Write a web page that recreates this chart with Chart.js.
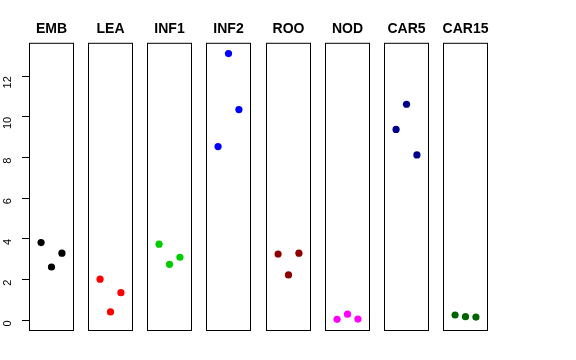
<!DOCTYPE html>
<html>
<head>
<meta charset="utf-8">
<script src="https://cdn.jsdelivr.net/npm/chart.js@4.4.0/dist/chart.umd.min.js"></script>
<style>
  html, body { margin: 0; padding: 0; background: #fff; }
  #wrap { position: relative; width: 576px; height: 360px; overflow: hidden; }
  .panel { position: absolute; top: 0; }
</style>
</head>
<body>
<div id="wrap"></div>
<script>
// Data
const groups = ['EMB', 'LEA', 'INF1', 'INF2', 'ROO', 'NOD', 'CAR5', 'CAR15'];
const colors = ['#000000', '#FF0000', '#00CD00', '#0000FF', '#8B0000', '#FF00FF', '#00008B', '#006400'];
const replicate = [1, 2, 3];
const embValues = [3.82, 2.62, 3.30];
const leaValues = [2.02, 0.41, 1.36];
const inf1Values = [3.74, 2.75, 3.10];
const inf2Values = [8.54, 13.11, 10.36];
const rooValues = [3.26, 2.23, 3.30];
const nodValues = [0.05, 0.30, 0.06];
const car5Values = [9.38, 10.62, 8.13];
const car15Values = [0.26, 0.18, 0.16];
const yTicks = [0, 2, 4, 6, 8, 10, 12];

const allValues = [embValues, leaValues, inf1Values, inf2Values, rooValues, nodValues, car5Values, car15Values];

// panel box outline
const boxPlugin = {
    id: 'box',
    afterDraw(chart) {
        const a = chart.chartArea;
        const c = chart.ctx;
        c.save();
        c.strokeStyle = '#000';
        c.lineWidth = 1;
        c.strokeRect(a.left + 0.5, a.top + 0.5, a.right - a.left - 1, a.bottom - a.top - 1);
        c.restore();
    }
};

const wrap = document.getElementById('wrap');
const axisW = 29;
const panelW = 45;

groups.forEach((name, i) => {
    const first = i === 0;
    const div = document.createElement('div');
    div.className = 'panel';
    div.style.left = Math.round(29 + i * 59.15) - axisW + 'px';
    const cv = document.createElement('canvas');
    cv.width = axisW + panelW + axisW;
    cv.height = 360;
    div.appendChild(cv);
    wrap.appendChild(div);

    new Chart(cv.getContext('2d'), {
        type: 'scatter',
        data: {
            datasets: [{
                data: replicate.map((x, k) => ({ x: x, y: allValues[i][k] })),
                backgroundColor: colors[i],
                borderWidth: 0,
                pointRadius: 3.6,
                pointHoverRadius: 3.6
            }]
        },
        options: {
            responsive: false,
            animation: false,
            layout: { autoPadding: false, padding: { left: 0, right: 0, top: 0, bottom: 29 } },
            plugins: {
                legend: { display: false },
                tooltip: { enabled: false },
                title: {
                    display: true,
                    text: name,
                    color: '#000',
                    font: { family: 'Liberation Sans', size: 14, weight: 'bold' },
                    padding: { top: 21, bottom: 5 }
                }
            },
            scales: {
                x: { type: 'linear', min: -0.16, max: 4.16, display: false },
                y: {
                    type: 'linear',
                    min: -0.526,
                    max: 13.64,
                    afterFit(scale) { scale.width = axisW; },
                    afterBuildTicks(scale) { scale.ticks = yTicks.map(v => ({ value: v })); },
                    border: { display: false },
                    grid: {
                        display: first,
                        drawOnChartArea: false,
                        drawTicks: true,
                        tickLength: 7,
                        color: '#000',
                        lineWidth: 1
                    },
                    ticks: {
                        display: first,
                        minRotation: 90,
                        maxRotation: 90,
                        padding: 14,
                        color: '#000',
                        font: { family: 'Liberation Sans', size: 11 }
                    }
                },
                // empty right margin so the title centres over the panel
                yr: {
                    type: 'linear',
                    position: 'right',
                    display: true,
                    afterFit(scale) { scale.width = axisW; },
                    border: { display: false },
                    grid: { display: false },
                    ticks: { display: false }
                }
            }
        },
        plugins: [boxPlugin]
    });
});
</script>
</body>
</html>
